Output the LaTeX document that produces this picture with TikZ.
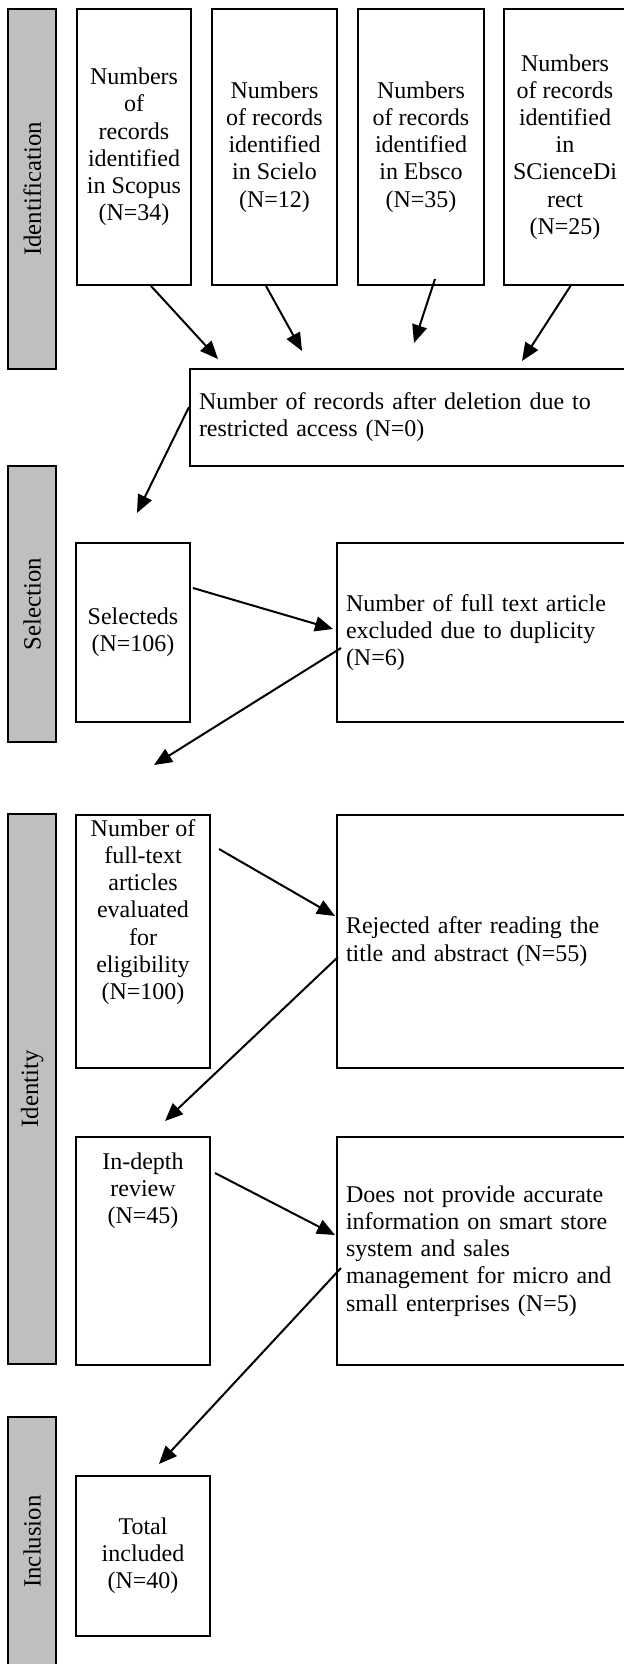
\documentclass[tikz,border=0pt]{standalone}
\usepackage{fontspec}
\setmainfont{Liberation Serif}
\usetikzlibrary{arrows.meta}

\tikzset{
	stage/.style={draw, line width=1pt, fill=black!25, rotate=90, inner sep=0pt,
		minimum height=23.75pt, font=\fontsize{12.4}{13.6}\selectfont},
	box/.style={draw, line width=1pt, align=center, inner sep=2pt,
		font=\fontsize{12}{13.6}\selectfont},
	wide/.style={box, align=left, inner xsep=4.5pt, text width=138.5pt},
	arr/.style={-{Triangle[length=9pt,width=7.5pt]}, line width=1pt}
}

\begin{document}
\begin{tikzpicture}[x=1pt,y=1pt]
	
	\useasboundingbox (0,0) rectangle (312,-832);
	
	% stages
	\node[stage, minimum width=180pt] (idbar) at (16.1,-94.5) {Identification};
	\node[stage, minimum width=138pt] (selbar) at (16.1,-302) {Selection};
	\node[stage, minimum width=275pt] (itybar) at (16.1,-544.5) {Identity};
	\node[stage, minimum width=124.5pt] (incbar) at (16.1,-770.75) {Inclusion};
	
	% sources
	\node[box, minimum width=57pt, minimum height=138pt] (s1) at (67,-73.5) {Numbers\\of\\records\\identified\\in Scopus\\(N=34)};
	\node[box, minimum width=62.5pt, minimum height=138pt] (s2) at (137.25,-73.5) {Numbers\\of records\\identified\\in Scielo\\(N=12)};
	\node[box, minimum width=63pt, minimum height=138pt] (s3) at (210.5,-73.5) {Numbers\\of records\\identified\\in Ebsco\\(N=35)};
	\node[box, minimum width=61pt, minimum height=138pt] (s4) at (282.5,-73.5) {Numbers\\of records\\identified\\in\\SCienceDi\\rect\\(N=25)};
	
	\node[wide, text width=212pt, minimum height=48.5pt] (access) at (205.5,-208.75) {Number of records after deletion due to\\restricted access (N=0)};
	
	% selection
	\node[box, minimum width=57pt, minimum height=89.5pt] (sel) at (66.5,-316.25) {Selecteds\\(N=106)};
	\node[wide, minimum height=89.5pt] (dup) at (242.25,-316.25) {Number of full text article\\excluded due to duplicity\\(N=6)};
	
	% identity
	\node[box, minimum width=67pt, minimum height=126.5pt] (elig) at (71.5,-470.75) {};
	\node[box, draw=none, inner sep=0pt, anchor=north] (eligtext) at ([yshift=-2.2pt]elig.north) {Number of\\full-text\\articles\\evaluated\\for\\eligibility\\(N=100)};
	\node[wide, minimum height=126.5pt] (reject) at (242.25,-470.75) {Rejected after reading the\\title and abstract (N=55)};
	
	\node[box, minimum width=67pt, minimum height=114pt] (deep) at (71.5,-625.5) {};
	\node[box, draw=none, inner sep=0pt, anchor=north] (deeptext) at ([yshift=-7.7pt]deep.north) {In-depth\\review\\(N=45)};
	\node[wide, minimum height=114pt] (notacc) at (242.25,-625.5) {Does not provide accurate\\information on smart store\\system and sales\\management for micro and\\small enterprises (N=5)};
	
	% inclusion
	\node[box, minimum width=67pt, minimum height=80pt] (total) at (71.5,-778) {Total\\included\\(N=40)};
	
	% arrow tips
	\coordinate (t1) at (109,-179.5);
	\coordinate (t2) at (151,-175.5);
	\coordinate (t3) at (207,-171.5);
	\coordinate (t4) at (261,-180.5);
	\coordinate (t5) at (68.5,-256.5);
	\coordinate (t7) at (77,-382.5);
	\coordinate (t9) at (82.5,-560.5);
	\coordinate (t11) at (79.5,-732);
	
	\draw[arr] ([xshift=8.5pt]s1.south) -- (t1);
	\draw[arr] ([xshift=-4.25pt]s2.south) -- (t2);
	\draw[arr] ([xshift=7pt,yshift=3.5pt]s3.south) -- (t3);
	\draw[arr] ([xshift=2.75pt]s4.south) -- (t4);
	\draw[arr] ([yshift=5.25pt]access.west) -- (t5);
	\draw[arr] ([xshift=1pt,yshift=22.25pt]sel.east) -- ([xshift=-1.5pt,yshift=1.75pt]dup.west);
	\draw[arr] ([xshift=2.5pt,yshift=-7.75pt]dup.west) -- (t7);
	\draw[arr] ([xshift=4pt,yshift=-17.5pt]elig.north east) -- ([xshift=-0.5pt,yshift=12.75pt]reject.west);
	\draw[arr] ([xshift=1pt,yshift=-7.75pt]reject.west) -- (t9);
	\draw[arr] ([xshift=2pt,yshift=-18.5pt]deep.north east) -- ([xshift=-0.5pt,yshift=8pt]notacc.west);
	\draw[arr] ([xshift=2.5pt,yshift=-8.5pt]notacc.west) -- (t11);
	
\end{tikzpicture}
\end{document}
